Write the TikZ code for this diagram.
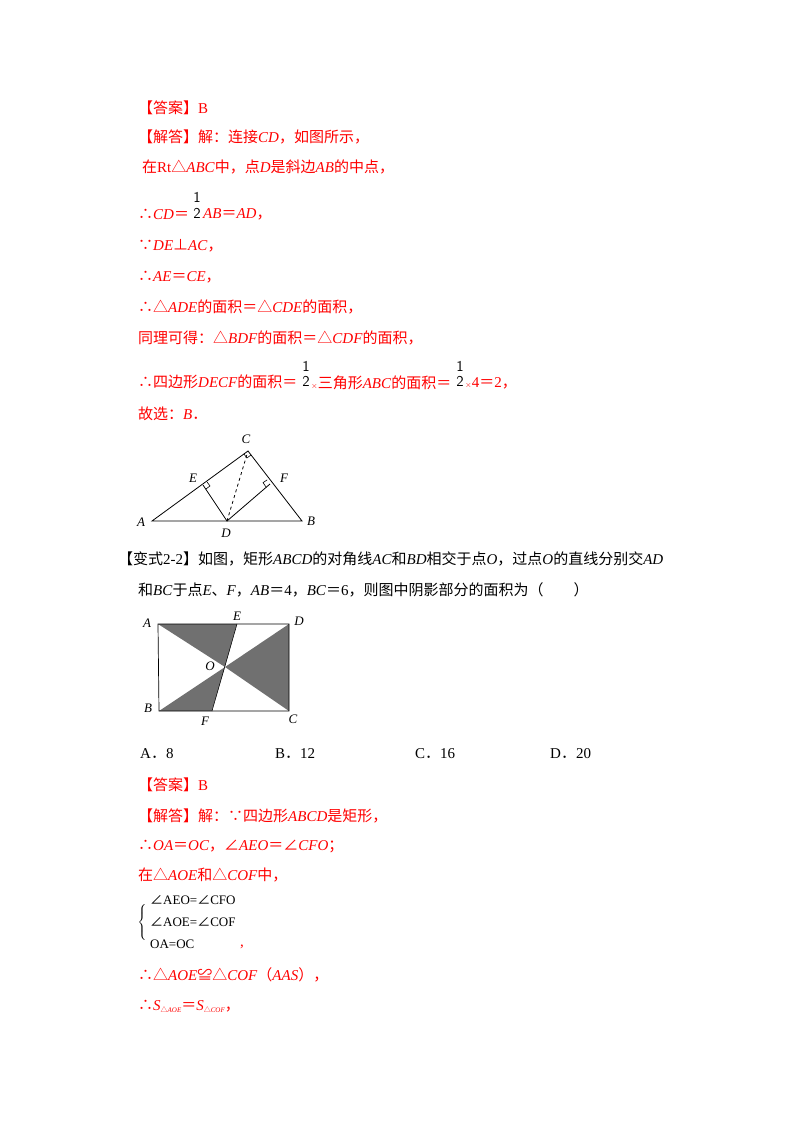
\documentclass[tikz,border=0pt]{standalone}
\usepackage{fontspec}
\usetikzlibrary{calc}
\setmainfont{Liberation Serif}
\newfontfamily\cjk{Noto Sans CJK SC}
\newcommand{\zh}[1]{{\cjk #1}}
\newcommand{\iv}[1]{\textit{#1}}
\newcommand{\tm}{{\fontsize{8}{8}\selectfont$\times$}}
\definecolor{ansred}{RGB}{255,0,0}
\definecolor{shgray}{RGB}{112,112,112}
\begin{document}
\begin{tikzpicture}[x=1pt,y=-1pt,
  t/.style={anchor=west,inner sep=0pt,font=\fontsize{15}{17}\selectfont},
  r/.style={t,text=ansred},
  fr/.style={inner sep=0pt,font=\sffamily\fontsize{15}{16}\selectfont},
  lab/.style={inner sep=0pt,font=\itshape\fontsize{13}{15}\selectfont},
  geo/.style={line width=0.8pt}]
\useasboundingbox (0,0) rectangle (800,1132);
% solution 1
\node[r] (l1) at (138,108) {\zh{【答案】}B};
\node[r] (l2) at (138,137) {\zh{【解答】解：连接}\iv{CD}\zh{，如图所示，}};
\node[r] (l3) at (142,167) {\zh{在}Rt\zh{△}\iv{ABC}\zh{中，点}\iv{D}\zh{是斜边}\iv{AB}\zh{的中点，}};
\node[r] (l4) at (138,214) {\zh{∴}\iv{CD}\zh{＝}};
\node[fr] (f1a) at (197,197) {1};
\node[fr] (f1b) at (197,213) {2};
\node[r] (l4b) at (203,214) {\iv{AB}\zh{＝}\iv{AD}\zh{，}};
\node[r] (l5) at (138,246) {\zh{∵}\iv{DE}\zh{⊥}\iv{AC}\zh{，}};
\node[r] (l6) at (138,277) {\zh{∴}\iv{AE}\zh{＝}\iv{CE}\zh{，}};
\node[r] (l7) at (138,307) {\zh{∴△}\iv{ADE}\zh{的面积＝△}\iv{CDE}\zh{的面积，}};
\node[r] (l8) at (138,338) {\zh{同理可得：△}\iv{BDF}\zh{的面积＝△}\iv{CDF}\zh{的面积，}};
\node[r] (l9) at (138,382) {\zh{∴四边形}\iv{DECF}\zh{的面积＝}};
\node[fr] (f2a) at (306,366) {1};
\node[fr] (f2b) at (306,381) {2};
\node[r] (l9b) at (311,383) {\tm\zh{三角形}\iv{ABC}\zh{的面积＝}};
\node[fr] (f3a) at (460,366) {1};
\node[fr] (f3b) at (460,381) {2};
\node[r] (l9c) at (465,383) {\tm 4\zh{＝}2\zh{，}};
\node[r] (l10) at (138,414) {\zh{故选：}\iv{B}\zh{．}};
% figure 1
\coordinate (A1) at (152,521); \coordinate (B1) at (302,521);
\coordinate (C1) at (248,451); \coordinate (D1) at (227,521);
\coordinate (E1) at (203,485); \coordinate (F1) at (270,484);
\draw[geo] (A1) -- (B1) -- (C1) -- cycle;
\draw[geo] (E1) -- (D1) -- (F1);
\draw[geo,dashed] (D1) -- (C1);
\draw[line width=0.6pt] ($(E1)!5pt!(C1)$) -- ($(E1)!5pt!(C1)!5pt!-90:(C1)$) -- ($(E1)!5pt!(D1)$);
\draw[line width=0.6pt] ($(F1)!5pt!(C1)$) -- ($(F1)!5pt!(C1)!5pt!90:(C1)$) -- ($(F1)!5pt!(D1)$);
\draw[line width=0.6pt] ($(C1)!5pt!(A1)$) -- ($(C1)!5pt!(A1)!5pt!90:(A1)$) -- ($(C1)!5pt!(B1)$);
\node[lab] at (141,522) {A};
\node[lab] at (311,521) {B};
\node[lab] at (246,439) {C};
\node[lab] at (226,533) {D};
\node[lab] at (193,478) {E};
\node[lab] at (284,478) {F};
% problem 2
\node[t] (p1) at (118,559) {\zh{【变式}2-2\zh{】如图，矩形}\iv{ABCD}\zh{的对角线}\iv{AC}\zh{和}\iv{BD}\zh{相交于点}\iv{O}\zh{，过点}\iv{O}\zh{的直线分别交}\iv{AD}};
\node[t] (p2) at (138,590) {\zh{和}\iv{BC}\zh{于点}\iv{E}\zh{、}\iv{F}\zh{，}\iv{AB}\zh{＝}4\zh{，}\iv{BC}\zh{＝}6\zh{，则图中阴影部分的面积为（\quad\quad ）}};
% figure 2
\coordinate (A2) at (158,624); \coordinate (D2) at (289,624);
\coordinate (B2) at (159,711); \coordinate (C2) at (289,711);
\coordinate (E2) at (237,624); \coordinate (F2) at (212,711);
\coordinate (O2) at (225,667);
\fill[shgray] (A2) -- (E2) -- (O2) -- cycle;
\fill[shgray] (D2) -- (O2) -- (C2) -- cycle;
\fill[shgray] (B2) -- (O2) -- (F2) -- cycle;
\draw[line width=0.7pt] (A2) -- (D2) -- (C2) -- (B2) -- cycle;
\draw[line width=0.5pt] (E2) -- (F2);
\node[lab] at (147,623) {A};
\node[lab] at (237,616) {E};
\node[lab] at (299,621) {D};
\node[lab] at (210,666) {O};
\node[lab] at (148,708) {B};
\node[lab] at (205,721) {F};
\node[lab] at (293,719) {C};
% options
\node[t] (oa) at (140,754) {A\zh{．}8};
\node[t] (ob) at (275,754) {B\zh{．}12};
\node[t] (oc) at (415,754) {C\zh{．}16};
\node[t] (od) at (550,754) {D\zh{．}20};
% solution 2
\node[r] (s1) at (138,785) {\zh{【答案】}B};
\node[r] (s2) at (138,816) {\zh{【解答】解：∵四边形}\iv{ABCD}\zh{是矩形，}};
\node[r] (s3) at (138,846) {\zh{∴}\iv{OA}\zh{＝}\iv{OC}\zh{，∠}\iv{AEO}\zh{＝∠}\iv{CFO}\zh{；}};
\node[r] (s4) at (138,875) {\zh{在△}\iv{AOE}\zh{和△}\iv{COF}\zh{中，}};
\node[t,font=\fontsize{13}{15}\selectfont] (b1) at (150,900) {\zh{∠}AEO=\zh{∠}CFO};
\node[t,font=\fontsize{13}{15}\selectfont] (b2) at (150,922) {\zh{∠}AOE=\zh{∠}COF};
\node[t,font=\fontsize{13}{15}\selectfont] (b3) at (150,944) {OA=OC};
\node[inner sep=0pt,anchor=east] (br) at (148,922) {$\left\{\rule{0pt}{22pt}\right.$};
\node[r] (s5) at (240,947) {,};
\node[r] (s6) at (138,975) {\zh{∴△}\iv{AOE}\zh{≌△}\iv{COF}\zh{（}\iv{AAS}\zh{），}};
\node[r] (s7) at (138,1006) {\zh{∴}\iv{S}\raisebox{-2pt}{\scriptsize\zh{△}\iv{AOE}}\zh{＝}\iv{S}\raisebox{-2pt}{\scriptsize\zh{△}\iv{COF}}\zh{，}};
\end{tikzpicture}
\end{document}
